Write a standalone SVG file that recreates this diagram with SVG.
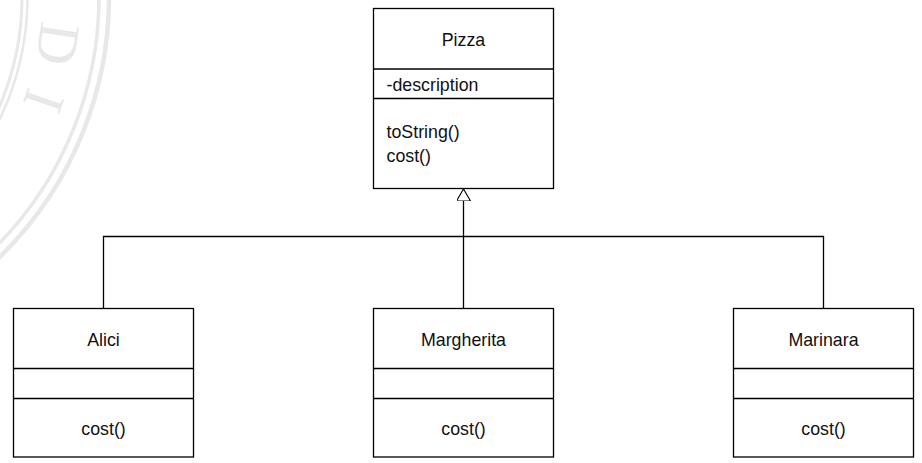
<svg xmlns="http://www.w3.org/2000/svg" width="922" height="463" viewBox="0 0 922 463">
<defs>
<style>
.box{fill:#fff;stroke:#000;stroke-width:1.3}
.sep{stroke:#000;stroke-width:1.3;fill:none}
.t{font-family:"Liberation Sans",Arial,sans-serif;font-size:17.8px;fill:#111}
.c{text-anchor:middle}
.edge{fill:none;stroke:#000;stroke-width:1.3}
.ring{fill:none;stroke:#e8e8e8}
.wm{font-family:"Liberation Serif","Times New Roman",serif;font-size:58px;fill:#e8e8e8;text-anchor:middle;dominant-baseline:central}
</style>
<marker id="gen" viewBox="0 0 12 14" refX="12" refY="7" markerWidth="12" markerHeight="14" markerUnits="userSpaceOnUse" orient="auto">
<path d="M0,0 L12,7 L0,14 Z" fill="#fff" stroke="#000" stroke-width="1.1"/>
</marker>
</defs>
<rect width="922" height="463" fill="#fff"/>
<g id="watermark">
<circle class="ring" cx="-255" cy="-3" r="277" stroke-width="3"/>
<circle class="ring" cx="-255" cy="-3" r="282.5" stroke-width="2.5"/>
<circle class="ring" cx="-255" cy="-3" r="354" stroke-width="3.5"/>
<circle class="ring" cx="-255" cy="-3" r="364" stroke-width="4.5"/>
<text class="wm" transform="translate(58,44) rotate(98.4)">D</text>
<text class="wm" transform="translate(44,101) rotate(109)">I</text>
</g>
<g id="connectors">
<path class="edge" d="M463.5,308.5 V189" marker-end="url(#gen)"/>
<path class="edge" d="M103.5,308.5 V236.5 H823.5 V308.5"/>
</g>
<g id="Pizza">
<rect class="box" x="373.5" y="8.5" width="180" height="180"/>
<path class="sep" d="M373.5,69 H553.5 M373.5,98.5 H553.5"/>
<text class="t c" x="463.5" y="45.7">Pizza</text>
<text class="t" x="386.5" y="90.5">-description</text>
<text class="t" x="386.5" y="138.3">toString()</text>
<text class="t" x="386.5" y="162.3">cost()</text>
</g>
<g id="Alici">
<rect class="box" x="13.5" y="308.5" width="180" height="148.5"/>
<path class="sep" d="M13.5,368.5 H193.5 M13.5,398.5 H193.5"/>
<text class="t c" x="103.5" y="345.8">Alici</text>
<text class="t c" x="103.5" y="435">cost()</text>
</g>
<g id="Margherita">
<rect class="box" x="373.5" y="308.5" width="180" height="148.5"/>
<path class="sep" d="M373.5,368.5 H553.5 M373.5,398.5 H553.5"/>
<text class="t c" x="463.5" y="345.8">Margherita</text>
<text class="t c" x="463.5" y="435">cost()</text>
</g>
<g id="Marinara">
<rect class="box" x="733.5" y="308.5" width="180" height="148.5"/>
<path class="sep" d="M733.5,368.5 H913.5 M733.5,398.5 H913.5"/>
<text class="t c" x="823.5" y="345.8">Marinara</text>
<text class="t c" x="823.5" y="435">cost()</text>
</g>
</svg>
